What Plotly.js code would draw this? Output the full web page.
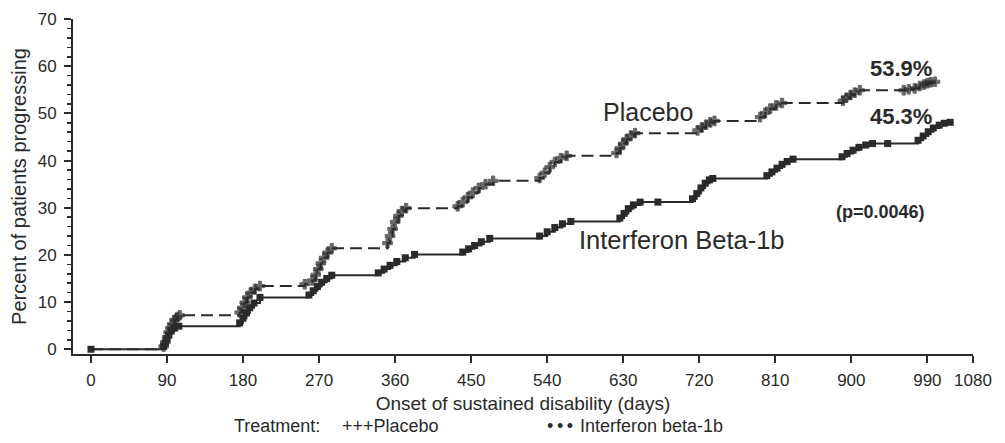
<!DOCTYPE html>
<html>
<head>
<meta charset="utf-8">
<script src="https://cdn.plot.ly/plotly-3.0.1.min.js"></script>
<style>
  html, body { margin: 0; padding: 0; background: #ffffff; }
  #chart { width: 1005px; height: 443px; }
</style>
</head>
<body>
<div id="chart"></div>
<script>
// ---- Data (days, percent progressing) ----
const placeboDays = [0,
  86, 88, 90, 92, 94, 96, 99, 102, 105,
  176, 179, 182, 185, 189, 194, 200,
  253,
  262, 266, 269, 272, 276, 280, 285,
  351, 354, 357, 360, 364, 368, 373,
  434, 440, 446, 452, 459, 467, 476,
  531, 537, 543, 549, 556, 563,
  622, 626, 630, 634, 639, 644,
  718, 723, 728, 733, 738,
  792, 798, 804, 811, 818,
  890, 894, 899, 904, 910,
  962, 968,
  975, 981, 986, 990, 994, 999];
const placeboPct = [0,
  0.6, 1.5, 2.6, 3.6, 4.5, 5.3, 6.2, 6.8, 7.2,
  7.8, 8.8, 9.9, 11.0, 12.0, 12.8, 13.4,
  13.8,
  14.6, 15.8, 17.0, 18.2, 19.4, 20.5, 21.4,
  22.5, 24.0, 25.5, 27.0, 28.3, 29.3, 29.9,
  30.3, 31.2, 32.2, 33.2, 34.2, 35.0, 35.7,
  36.3, 37.4, 38.6, 39.7, 40.5, 41.0,
  41.6, 42.6, 43.6, 44.5, 45.3, 45.8,
  46.4, 47.0, 47.6, 48.1, 48.4,
  49.2, 50.1, 51.0, 51.7, 52.2,
  52.7, 53.3, 53.9, 54.4, 54.9,
  54.9, 55.1,
  55.3, 55.8, 56.1, 56.4, 56.6, 56.7];

const ifnDays = [0,
  86, 88, 90, 92, 95, 99, 104,
  176, 180, 184, 188, 193, 200,
  258, 263, 268, 273, 279, 285,
  340, 347, 354, 362, 372, 383,
  440, 447, 454, 462, 472,
  531, 540, 549, 558, 568,
  626, 631, 636, 642, 650,
  671,
  712, 717, 722, 727, 732, 736,
  800, 806, 812, 818, 824, 831,
  889, 895, 902, 909, 917, 925,
  943,
  979, 985, 991, 997, 1004, 1010, 1017];
const ifnPct = [0,
  0.6, 1.4, 2.3, 3.1, 3.9, 4.5, 4.9,
  5.6, 6.6, 7.7, 8.8, 9.8, 11.0,
  11.5, 12.4, 13.3, 14.2, 15.0, 15.7,
  16.2, 17.0, 17.8, 18.6, 19.4, 20.1,
  20.6, 21.3, 22.0, 22.8, 23.5,
  24.0, 24.9, 25.8, 26.6, 27.1,
  27.8, 28.8, 29.8, 30.6, 31.2,
  31.2,
  31.9, 33.0, 34.2, 35.2, 35.9, 36.2,
  36.8, 37.6, 38.4, 39.2, 39.8, 40.3,
  40.8, 41.5, 42.2, 42.8, 43.3, 43.6,
  43.6,
  44.3, 45.2, 46.1, 46.9, 47.5, 47.9, 48.1];

const xTickVals = [0, 90, 180, 270, 360, 450, 540, 630, 720, 810, 900, 990, 1044];
const xTickText = ['0', '90', '180', '270', '360', '450', '540', '630', '720', '810', '900', '990', '1080'];
const yTickVals = [0, 10, 20, 30, 40, 50, 60, 70];

const ink = '#2a2a2a';
const fontFam = 'Liberation Sans, Arial, Helvetica, sans-serif';

const placebo = {
  x: placeboDays, y: placeboPct,
  type: 'scatter', mode: 'lines+markers', name: 'Placebo',
  line: { shape: 'hv', color: ink, width: 2, dash: '12px,6px' },
  marker: {
    symbol: 'cross', color: ink,
    size: placeboDays.map((d, i) => i === 0 ? 0 : 8),
    line: { color: ink, width: 1 }
  },
  hoverinfo: 'x+y'
};
const ifn = {
  x: ifnDays, y: ifnPct,
  type: 'scatter', mode: 'lines+markers', name: 'Interferon beta-1b',
  line: { shape: 'hv', color: ink, width: 2 },
  marker: { symbol: 'square', color: ink, size: 7 },
  hoverinfo: 'x+y'
};

const L = 73, R = 973, T = 19, B = 354;
function px(x) { return (x - L) / (R - L); }
function py(y) { return (B - y) / (B - T); }

const layout = {
  width: 1005, height: 443,
  margin: { l: L, r: 1005 - R, t: T, b: 443 - B, pad: 0 },
  paper_bgcolor: '#ffffff', plot_bgcolor: '#ffffff',
  showlegend: false,
  font: { family: fontFam, color: ink },
  xaxis: {
    range: [-21.3, 1044],
    tickmode: 'array', tickvals: xTickVals, ticktext: xTickText,
    ticks: 'outside', ticklen: 7, tickwidth: 2, tickcolor: ink,
    ticklabelstandoff: 3,
    showline: true, linecolor: ink, linewidth: 2,
    showgrid: false, zeroline: false,
    tickfont: { size: 17, color: ink, family: fontFam },
    title: { text: 'Onset of sustained disability (days)', font: { size: 19, color: ink, family: fontFam }, standoff: 7 }
  },
  yaxis: {
    range: [-1, 70],
    tickmode: 'array', tickvals: yTickVals,
    ticks: 'outside', ticklen: 7, tickwidth: 2, tickcolor: ink,
    ticklabelstandoff: 4,
    minor: { dtick: 2, tick0: 0, ticks: 'outside', ticklen: 4, tickwidth: 1.5, tickcolor: ink, showgrid: false },
    showline: true, linecolor: ink, linewidth: 2,
    showgrid: false, zeroline: false,
    tickfont: { size: 17, color: ink, family: fontFam },
    title: { text: 'Percent of patients progressing', font: { size: 20, color: ink, family: fontFam }, standoff: 6 }
  },
  annotations: [
    { x: 659, y: 50.3, xref: 'x', yref: 'y', text: 'Placebo', showarrow: false,
      font: { size: 25, color: ink, family: fontFam } },
    { x: 700, y: 23.1, xref: 'x', yref: 'y', text: 'Interferon Beta-1b', showarrow: false,
      font: { size: 25.5, color: ink, family: fontFam } },
    { x: 959, y: 59.6, xref: 'x', yref: 'y', text: '<b>53.9%</b>', showarrow: false,
      font: { size: 22, color: ink, family: fontFam } },
    { x: 959, y: 49.4, xref: 'x', yref: 'y', text: '<b>45.3%</b>', showarrow: false,
      font: { size: 22, color: ink, family: fontFam } },
    { x: 934, y: 29.1, xref: 'x', yref: 'y', text: '<b>(p=0.0046)</b>', showarrow: false,
      font: { size: 18, color: ink, family: fontFam } },
    { x: px(232), y: py(426), xref: 'paper', yref: 'paper', xanchor: 'left', yanchor: 'middle',
      text: 'Treatment:', showarrow: false, font: { size: 18, color: ink, family: fontFam } },
    { x: px(340), y: py(426), xref: 'paper', yref: 'paper', xanchor: 'left', yanchor: 'middle',
      text: '+++Placebo', showarrow: false, font: { size: 18, color: ink, family: fontFam } },
    { x: px(545), y: py(426), xref: 'paper', yref: 'paper', xanchor: 'left', yanchor: 'middle',
      text: '\u2022\u2009\u2022\u2009\u2022', showarrow: false, font: { size: 18, color: ink, family: fontFam } },
    { x: px(578), y: py(426), xref: 'paper', yref: 'paper', xanchor: 'left', yanchor: 'middle',
      text: 'Interferon beta-1b', showarrow: false, font: { size: 18, color: ink, family: fontFam } }
  ]
};

Plotly.newPlot('chart', [placebo, ifn], layout, { displayModeBar: false, staticPlot: true });
</script>
</body>
</html>
